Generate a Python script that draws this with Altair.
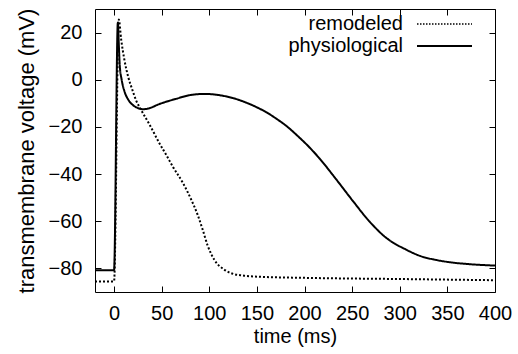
import altair as alt
import pandas as pd

series_names = ["remodeled", "physiological"]

t_rem = [-20, 0, 5, 7.5, 10.8, 15, 19, 23, 28.3, 37, 47.6, 55, 61.6, 72, 81, 88, 93,
         98.3, 105.4, 116, 125, 135, 150, 200, 300, 400]
v_rem = [-85.5, -85.5, 25.5, 17, 8.6, 1, -4, -8.6, -12.7, -18.8, -26.9, -32, -36.8,
         -43.5, -50.8, -57.5, -63.5, -70.3, -76.4, -80.6, -82.3, -83, -83.5, -84, -84.5, -85]

t_phys = [-20, 0, 4, 5, 6, 8, 11, 15, 20, 25, 30, 35, 47.6, 65, 80, 96, 110, 125,
          140, 150, 160, 170, 181, 193, 205, 216, 233, 250, 268, 286, 307, 322, 338,
          355, 373, 400]
v_phys = [-80.8, -80.8, 24.3, 15, 6, 0, -5, -8.5, -10.8, -12, -12.5, -12.3, -10.3, -8.1,
          -6.5, -6.0, -6.5, -7.8, -9.9, -11.7, -13.8, -16.4, -19.6, -23.9, -28.6, -33.5,
          -42.1, -51, -60, -67.1, -72.1, -74.8, -76.4, -77.5, -78.2, -78.8]

x_ticks = [0, 50, 100, 150, 200, 250, 300, 350, 400]
y_ticks = [-80, -60, -40, -20, 0, 20]

df = pd.DataFrame({
    "time": t_rem + t_phys,
    "voltage": v_rem + v_phys,
    "series": [series_names[0]] * len(t_rem) + [series_names[1]] * len(t_phys),
})

FONT = "Liberation Sans"
FS = 20
W, H = 400, 283

xscale = alt.Scale(domain=[-20, 400], nice=False, zero=False)
yscale = alt.Scale(domain=[-90, 30], nice=False, zero=False)
dash_scale = alt.Scale(domain=series_names, range=[[2, 2], [1, 0]])

lines = alt.Chart(df).mark_line(color="black", strokeWidth=2, interpolate="monotone").encode(
    x=alt.X("time:Q", scale=xscale,
            axis=alt.Axis(values=x_ticks, title="time (ms)", ticks=False, tickSize=0,
                          domain=False, grid=False, labelPadding=11, titlePadding=3,
                          labelOverlap=False, labelFlush=False)),
    y=alt.Y("voltage:Q", scale=yscale,
            axis=alt.Axis(values=y_ticks, title="transmembrane voltage (mV)", ticks=False,
                          tickSize=0, domain=False, grid=False, labelPadding=13,
                          titlePadding=10, labelOverlap=False, titleFontSize=22)),
    strokeDash=alt.StrokeDash("series:N", scale=dash_scale, legend=None),
    detail="series:N",
)

def tick_layer(xorient, yorient):
    return alt.Chart(df).mark_line(opacity=0).encode(
        x=alt.X("time:Q", scale=xscale,
                axis=alt.Axis(values=x_ticks, orient=xorient, offset=-H, labels=False,
                              title="", domain=False, grid=False, ticks=True, tickSize=6,
                              tickColor="black", tickWidth=1)),
        y=alt.Y("voltage:Q", scale=yscale,
                axis=alt.Axis(values=y_ticks, orient=yorient, offset=-W, labels=False,
                              title="", domain=False, grid=False, ticks=True, tickSize=6,
                              tickColor="black", tickWidth=1)),
        detail="series:N",
    )

ticks_a = tick_layer("top", "right")
ticks_b = tick_layer("bottom", "left")

legend_df = pd.DataFrame({"series": series_names})

def legend_text(name, ypos):
    return alt.Chart(legend_df).transform_filter(alt.datum.series == name).mark_text(
        align="right", baseline="middle", fontSize=FS, font=FONT, color="black"
    ).encode(text="series:N", x=alt.value(308), y=alt.value(ypos))

txt1 = legend_text(series_names[0], 15)
txt2 = legend_text(series_names[1], 37)

rule1 = alt.Chart(legend_df).transform_filter(alt.datum.series == series_names[0]).mark_rule(
    color="black", strokeWidth=1.6, strokeDash=[1.5, 1.5]
).encode(x=alt.value(322), x2=alt.value(377), y=alt.value(15))
rule2 = alt.Chart(legend_df).transform_filter(alt.datum.series == series_names[1]).mark_rule(
    color="black", strokeWidth=2
).encode(x=alt.value(322), x2=alt.value(377), y=alt.value(37))

chart = alt.layer(lines, ticks_a, ticks_b, txt1, txt2, rule1, rule2).resolve_axis(
    x="independent", y="independent"
).properties(
    width=W, height=H, autosize="none",
    padding={"left": 95, "top": 9, "right": 23, "bottom": 62},
    background="white",
).configure_view(
    stroke="black", strokeWidth=1
).configure_axis(
    labelFont=FONT, titleFont=FONT, labelFontSize=FS, titleFontSize=FS,
    labelColor="black", titleColor="black", titleFontWeight="normal",
)

chart.save("out.html", embed_options={"renderer": "svg", "actions": False})
